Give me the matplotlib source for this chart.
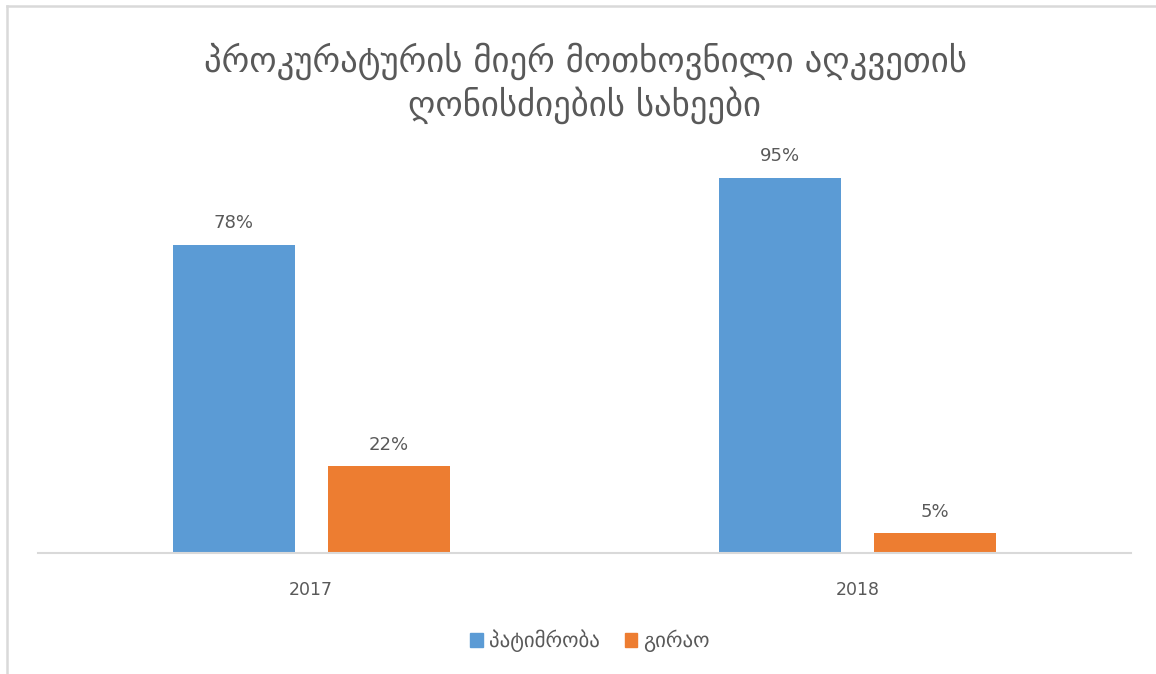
import numpy as np
import matplotlib.pyplot as plt
from matplotlib.lines import Line2D
from matplotlib.patches import Patch

years = ["2017", "2018"]
series_names = ["პატიმრობა", "გირაო"]
detention = [78, 95]
bail = [22, 5]
title = "პროკურატურის მიერ მოთხოვნილი აღკვეთის\nღონისძიების სახეები"

blue = "#5b9bd5"
orange = "#ed7d31"
gray_text = "#595959"

plt.rcParams['font.family'] = ['DejaVu Sans']

fig = plt.figure(figsize=(11.56, 6.74), dpi=100)
W, H = 1156, 674

# axes placed by pixel positions
ax = fig.add_axes([38 / W, (H - 553) / H, 1093 / W, 395 / H])

x = np.arange(len(years))
w = 0.223
off = 0.1418
b1 = ax.bar(x - off, detention, w, color=blue, label=series_names[0])
b2 = ax.bar(x + off, bail, w, color=orange, label=series_names[1])

for bars, vals in [(b1, detention), (b2, bail)]:
    for rect, v in zip(bars, vals):
        ax.annotate(f"{v}%", (rect.get_x() + rect.get_width() / 2, rect.get_height()),
                    xytext=(0, 9), textcoords="offset points",
                    ha="center", va="bottom", fontsize=13, color=gray_text)

ax.set_xlim(-0.5, 1.5)
ax.set_ylim(0, 100)
ax.set_xticks(x)
ax.set_xticklabels(years, fontsize=12.5, color=gray_text)
ax.tick_params(axis="x", length=0, pad=20)
ax.set_yticks([])
for s in ["top", "right", "left"]:
    ax.spines[s].set_visible(False)
ax.spines["bottom"].set_color("#d9d9d9")
ax.spines["bottom"].set_linewidth(1.5)

fig.text(585 / W, 1 - 83 / H, title, ha="center", va="center",
         fontsize=25, color=gray_text, linespacing=1.2)

handles = [Patch(color=blue), Patch(color=orange)]
fig.legend(handles, series_names, loc="center", bbox_to_anchor=(590 / W, 1 - 641 / H),
           ncol=2, frameon=False, fontsize=15, labelcolor=gray_text,
           handlelength=0.6, handleheight=0.6, handletextpad=0.3, columnspacing=1.2)

# light frame at the top and left edges
fig.add_artist(Line2D([7 / W, 1], [1 - 6 / H, 1 - 6 / H], color="#d9d9d9", lw=1.8))
fig.add_artist(Line2D([7 / W, 7 / W], [0, 1 - 6 / H], color="#d9d9d9", lw=1.8))

fig.savefig("out.png", dpi=100)
